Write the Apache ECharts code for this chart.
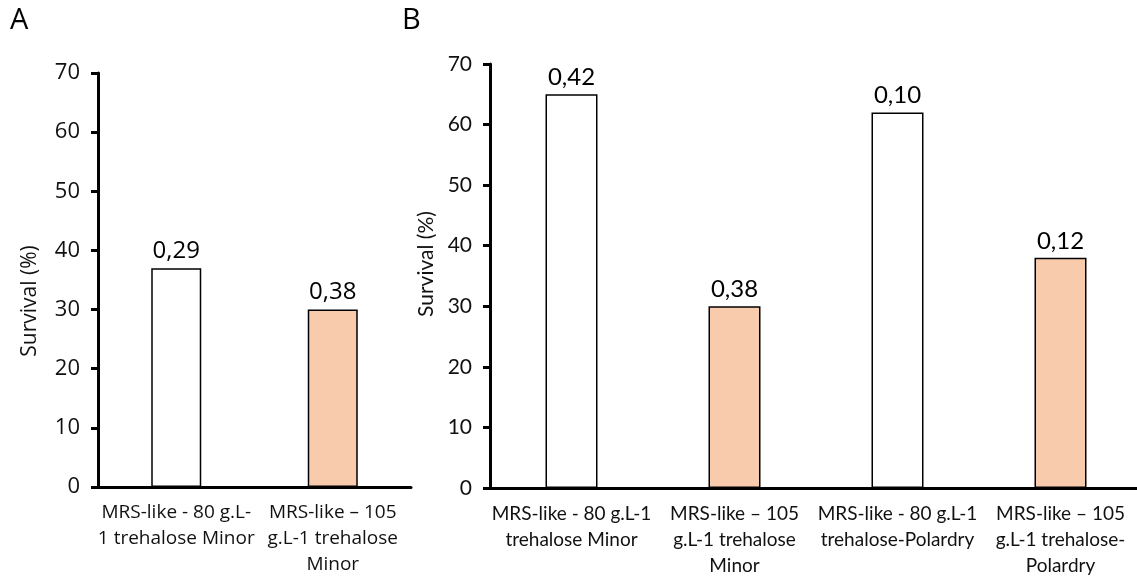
<!DOCTYPE html>
<html>
<head>
<meta charset="utf-8">
<script src="https://cdn.jsdelivr.net/npm/echarts@6/dist/echarts.min.js"></script>
<style>html,body{margin:0;padding:0;background:#fff}#c{width:1137px;height:578px}</style>
</head>
<body>
<div id="c"></div>
<script>
var categoriesA = ["MRS-like - 80 g.L-\n1 trehalose Minor", "MRS-like – 105\ng.L-1 trehalose\nMinor"];
var survivalA = [37, 30];
var labelsA = ["0,29", "0,38"];
var colorsA = ["#ffffff", "#f8cbad"];

var categoriesB = ["MRS-like - 80 g.L-1\ntrehalose Minor", "MRS-like – 105\ng.L-1 trehalose\nMinor", "MRS-like - 80 g.L-1\ntrehalose-Polardry", "MRS-like – 105\ng.L-1 trehalose-\nPolardry"];
var survivalB = [65, 30, 62, 38];
var labelsB = ["0,42", "0,38", "0,10", "0,12"];
var colorsB = ["#ffffff", "#f8cbad", "#ffffff", "#f8cbad"];

var yTicks = [0, 10, 20, 30, 40, 50, 60, 70];
var yTitle = "Survival (%)";

var fontA = "Open Sans";
var fontB = "Lato";
var txt = '#111';

function mkData(vals, cols) {
  return vals.map(function (v, i) {
    return { value: v, itemStyle: { color: cols[i] } };
  });
}

var chart = echarts.init(document.getElementById('c'), null, { renderer: 'canvas' });
var axisLineStyle = { color: '#000', width: 3 };
chart.setOption({
  animation: false,
  backgroundColor: '#fff',
  graphic: [
    { type: 'text', left: 10, top: 6, style: { text: 'A', font: '29px "Open Sans"', fill: '#000' } },
    { type: 'text', left: 402, top: 6, style: { text: 'B', font: '29px "Open Sans"', fill: '#000' } },
    { type: 'text', x: 30, y: 301, rotation: Math.PI / 2,
      style: { text: yTitle, font: '21px "Open Sans"', fill: txt, align: 'center', verticalAlign: 'middle' } },
    { type: 'text', x: 426, y: 264, rotation: Math.PI / 2,
      style: { text: yTitle, font: '21px "Lato"', fill: txt, align: 'center', verticalAlign: 'middle' } }
  ],
  grid: [
    { left: 98, top: 73, width: 313, height: 414, containLabel: false, outerBoundsMode: 'none' },
    { left: 490, top: 64, width: 652, height: 424, containLabel: false, outerBoundsMode: 'none' }
  ],
  xAxis: [
    {
      gridIndex: 0, type: 'category', data: categoriesA,
      axisLine: { lineStyle: axisLineStyle }, axisTick: { show: false },
      axisLabel: { color: txt, fontFamily: fontA, fontSize: 19, lineHeight: 26, margin: 13, interval: 0 }
    },
    {
      gridIndex: 1, type: 'category', data: categoriesB,
      axisLine: { lineStyle: axisLineStyle }, axisTick: { show: false },
      axisLabel: { color: txt, fontFamily: fontB, fontSize: 19, lineHeight: 26, margin: 13, interval: 0 }
    }
  ],
  yAxis: [
    {
      gridIndex: 0, type: 'value', min: 0, max: 70, interval: 10,
      axisLine: { show: true, lineStyle: axisLineStyle },
      axisTick: { show: true, length: 7, lineStyle: axisLineStyle },
      splitLine: { show: false },
      axisLabel: { color: txt, fontFamily: fontA, fontSize: 22, margin: 18,
        formatter: function (v) { return yTicks.indexOf(v) >= 0 ? String(v) : ''; } }
    },
    {
      gridIndex: 1, type: 'value', min: 0, max: 70, interval: 10,
      axisLine: { show: true, lineStyle: axisLineStyle },
      axisTick: { show: true, length: 7, lineStyle: axisLineStyle },
      splitLine: { show: false },
      axisLabel: { color: txt, fontFamily: fontB, fontSize: 21, margin: 18,
        formatter: function (v) { return yTicks.indexOf(v) >= 0 ? String(v) : ''; } }
    }
  ],
  series: [
    {
      type: 'bar', xAxisIndex: 0, yAxisIndex: 0, barWidth: 50,
      data: mkData(survivalA, colorsA),
      itemStyle: { borderColor: '#000', borderWidth: 1.5 },
      label: { show: true, position: 'top', distance: 5, color: '#000', fontFamily: fontA, fontSize: 24,
        formatter: function (p) { return labelsA[p.dataIndex]; } }
    },
    {
      type: 'bar', xAxisIndex: 1, yAxisIndex: 1, barWidth: 52,
      data: mkData(survivalB, colorsB),
      itemStyle: { borderColor: '#000', borderWidth: 1.5 },
      label: { show: true, position: 'top', distance: 5, color: '#000', fontFamily: fontB, fontSize: 24,
        formatter: function (p) { return labelsB[p.dataIndex]; } }
    }
  ]
});
</script>
</body>
</html>
